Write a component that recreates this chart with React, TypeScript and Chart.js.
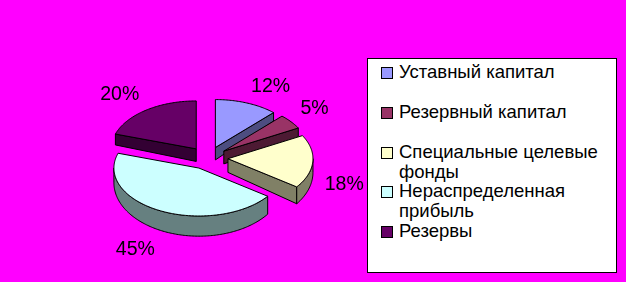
import React, { useEffect, useRef } from "react";
import { Chart, registerables } from "chart.js";

Chart.register(...registerables);

// Structure of equity, % of total
const categories = [
  "Уставный капитал",
  "Резервный капитал",
  "Специальные целевые фонды",
  "Нераспределенная прибыль",
  "Резервы",
];
const shares = [12, 5, 18, 45, 20];
const topColors = ["#9999FF", "#993366", "#FFFFCC", "#CCFFFF", "#660066"];
const sideColors = ["#4D4D80", "#4D1A33", "#808066", "#668080", "#330033"];

const FONT = "'Liberation Sans', Arial, Helvetica, sans-serif";

type Pt = [number, number];

// Draws the pie as a tilted, exploded 3-D pie using the arc geometry
// computed by Chart.js (centre, radius, start/end angles, offset).
const pie3d = {
  id: "pie3d",
  beforeDatasetsDraw(chart: any, _args: any, opts: any) {
    const ctx: CanvasRenderingContext2D = chart.ctx;
    const meta = chart.getDatasetMeta(0);
    const ds = chart.data.datasets[0];
    const values: number[] = ds.data;
    const total = values.reduce((s, v) => s + v, 0);
    const tilt: number = opts.tilt;
    const h0: number = opts.depth;
    const slope: number = opts.depthSlope;
    const arcs = meta.data;
    if (!arcs.length) return false;
    const cx = arcs[0].x;
    const cy = arcs[0].y;

    const thick = (Y: number) => h0 + slope * Y;
    const P = (X: number, Y: number, Z: number): Pt => [
      cx + X,
      cy + tilt * Y + Z * thick(Y),
    ];

    const slices = arcs.map((arc: any, i: number) => {
      const a0 = arc.startAngle;
      const a1 = arc.endAngle;
      const R = arc.outerRadius;
      const off = arc.options.offset || 0;
      const m = (a0 + a1) / 2;
      return { i, a0, a1, R, m, ox: off * Math.cos(m), oy: off * Math.sin(m) };
    });

    const poly = (pts: Pt[], fill: string) => {
      ctx.beginPath();
      pts.forEach(([x, y], k) => (k ? ctx.lineTo(x, y) : ctx.moveTo(x, y)));
      ctx.closePath();
      ctx.fillStyle = fill;
      ctx.fill();
      ctx.stroke();
    };

    const rim = (s: any, a: number, Z: number): Pt =>
      P(s.ox + s.R * Math.cos(a), s.oy + s.R * Math.sin(a), Z);

    const arcPts = (s: any, from: number, to: number, Z: number): Pt[] => {
      const n = Math.max(2, Math.ceil(Math.abs(to - from) / (Math.PI / 180)));
      const out: Pt[] = [];
      for (let k = 0; k <= n; k++) out.push(rim(s, from + ((to - from) * k) / n, Z));
      return out;
    };

    ctx.save();
    ctx.lineWidth = 1;
    ctx.strokeStyle = "#000000";
    ctx.lineJoin = "round";

    // back-to-front painting order
    const order = [...slices].sort((a, b) => Math.sin(a.m) - Math.sin(b.m));
    for (const s of order) {
      const side = sideColors[s.i];
      const apexT = P(s.ox, s.oy, 0);
      const apexB = P(s.ox, s.oy, 1);
      // radial cut faces
      if (Math.cos(s.a0) < -1e-6) {
        poly([apexT, rim(s, s.a0, 0), rim(s, s.a0, 1), apexB], side);
      }
      if (Math.cos(s.a1) > 1e-6) {
        poly([apexT, rim(s, s.a1, 0), rim(s, s.a1, 1), apexB], side);
      }
      // outer wall on the front half
      const w0 = Math.max(s.a0, 0);
      const w1 = Math.min(s.a1, Math.PI);
      if (w1 > w0) {
        const topEdge = arcPts(s, w0, w1, 0);
        const botEdge = arcPts(s, w0, w1, 1).reverse();
        poly([...topEdge, ...botEdge], side);
      }
      // top face
      poly([apexT, ...arcPts(s, s.a0, s.a1, 0)], ds.backgroundColor[s.i]);
    }

    // percentage labels outside each slice
    ctx.fillStyle = "#000000";
    ctx.font = `19.5px ${FONT}`;
    ctx.textBaseline = "alphabetic";
    const gap = opts.labelGap;
    const capH = 14;
    for (const s of slices) {
      const c = Math.cos(s.m);
      const sn = Math.sin(s.m);
      const [ax, ay] = rim(s, s.m, sn >= 0 ? 1 : 0);
      const x = ax + gap * c;
      const y = ay + gap * sn;
      ctx.textAlign = c >= 0 ? "left" : "right";
      const baseline = sn < 0 ? y : y + capH;
      const pct = Math.round((values[s.i] / total) * 100);
      ctx.fillText(`${pct}%`, x, baseline);
    }
    ctx.restore();
    return false;
  },
};

export default function App() {
  const canvasRef = useRef<HTMLCanvasElement | null>(null);

  useEffect(() => {
    const canvas = canvasRef.current;
    if (!canvas) return;
    const chart = new Chart(canvas, {
      type: "pie",
      data: {
        labels: categories,
        datasets: [
          {
            data: shares,
            backgroundColor: topColors,
            borderColor: "#000000",
            borderWidth: 1,
            offset: 20,
          },
        ],
      },
      options: {
        responsive: false,
        animation: false,
        events: [],
        radius: 85,
        layout: { padding: { left: 0, right: 210, top: 34, bottom: 0 } },
        plugins: {
          legend: { display: false },
          tooltip: { enabled: false },
          pie3d: { tilt: 0.564, depth: 13.6, depthSlope: 0.064, labelGap: 12 },
        } as any,
      } as any,
      plugins: [pie3d as any],
    });
    return () => chart.destroy();
  }, []);

  return (
    <div
      style={{
        position: "fixed",
        left: 0,
        top: 0,
        width: 626,
        height: 282,
        background: "#FF00FF",
        overflow: "hidden",
      }}
    >
      <canvas
        ref={canvasRef}
        width={626}
        height={282}
        style={{ position: "absolute", left: 0, top: 0, display: "block" }}
      />
      <div
        style={{
          position: "absolute",
          left: 367,
          top: 58,
          width: 250,
          height: 215,
          boxSizing: "border-box",
          border: "1px solid #000000",
          background: "#FFFFFF",
          fontFamily: FONT,
          fontSize: 18.5,
          lineHeight: "20px",
          color: "#000000",
        }}
      >
        {categories.map((name, i) => (
          <div
            key={name}
            style={{
              position: "absolute",
              left: 0,
              top: 3 + i * 39.8,
              width: 248,
            }}
          >
            <span
              style={{
                position: "absolute",
                left: 13,
                top: 5,
                width: 12,
                height: 12,
                boxSizing: "border-box",
                border: "1px solid #000000",
                background: topColors[i],
              }}
            />
            <div style={{ marginLeft: 31, width: 214 }}>{name}</div>
          </div>
        ))}
      </div>
    </div>
  );
}
